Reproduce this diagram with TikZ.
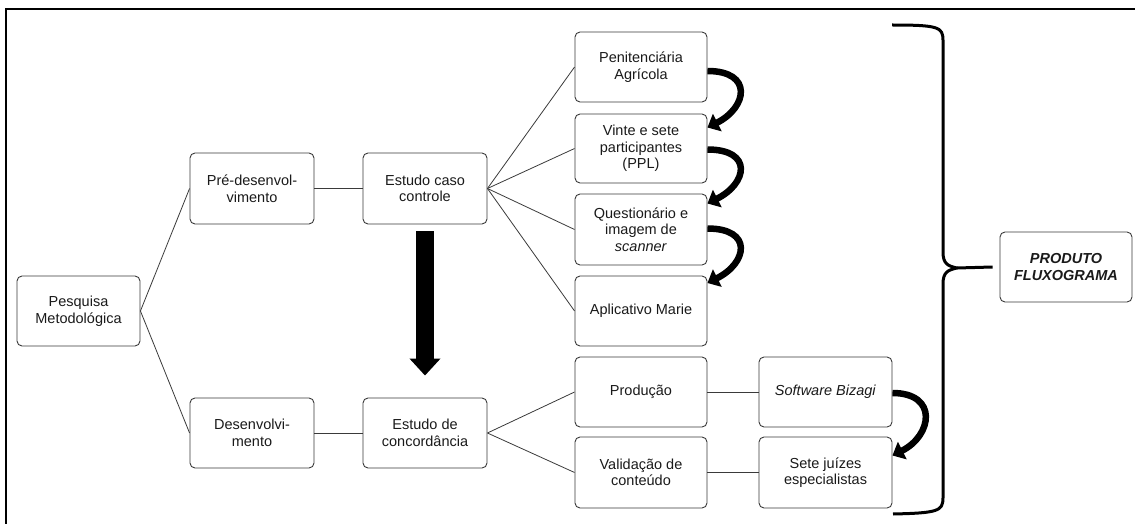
\documentclass[tikz,border=0pt]{standalone}
\usepackage{fontspec}
\setmainfont{Liberation Sans}
\usetikzlibrary{arrows.meta,calc}
\definecolor{boxline}{HTML}{3A3A3A}
\definecolor{ink}{HTML}{1A1A1A}
\begin{document}
\begin{tikzpicture}[x=1pt,y=-1pt,
  box/.style={draw=boxline, line width=0.9pt, rounded corners=5pt, fill=white,
    minimum width=124pt, minimum height=70pt, align=center, inner sep=2pt,
    text=ink, font=\fontsize{14.5}{16.5}\selectfont},
  wide/.style={minimum width=132pt},
  link/.style={draw=boxline, line width=0.8pt},
  flow/.style={line width=6.5pt, -{Triangle[length=11pt,width=19pt]}},
  frame/.style={line width=2pt, black}]
\useasboundingbox (0,0) rectangle (1135,524);

% outer frame (left and top edges)
\coordinate (fbl) at (6,524);
\coordinate (ftl) at (6,9);
\coordinate (ftr) at (1135,9);
\draw[frame] (fbl) -- (ftl) -- (ftr);

% first and second levels
\node[box, minimum width=123pt] (pm) at (78.5,311) {Pesquisa\\Metodológica};
\node[box, minimum height=71pt] (pd) at (252,188.5) {Pré-desenvol-\\vimento};
\node[box, minimum height=71pt] (ecc) at (425,188.5) {Estudo caso\\controle};
\node[box] (dv) at (252,433) {Desenvolvi-\\mento};
\node[box] (edc) at (425,433) {Estudo de\\concordância};

% case-control branch
\node[box, wide] (pa) at (641,67) {Penitenciária\\Agrícola};
\node[box, wide, minimum height=69pt] (vs) at (641,148.5) {Vinte e sete\\participantes\\(PPL)};
\node[box, wide, minimum height=71pt] (qi) at (641,229.5) {Questionário e\\imagem de\\\textit{scanner}};
\node[box, wide] (am) at (641,311) {Aplicativo Marie};

% agreement branch
\node[box, wide] (pr) at (641,392) {Produção};
\node[box, wide, minimum height=71pt] (vc) at (641,472.5) {Validação de\\conteúdo};
\node[box, minimum width=133pt] (sb) at (825.5,392) {\textit{Software Bizagi}};
\node[box, minimum width=133pt, minimum height=71pt] (sj) at (825.5,472.5) {Sete juízes\\especialistas};

% product
\node[box, wide] (pf) at (1066,267) {\textbf{\textit{PRODUTO}}\\\textbf{\textit{FLUXOGRAMA}}};

% tree links
\draw[link] (pm.east) -- (pd.west);
\draw[link] (pm.east) -- (dv.west);
\draw[link] (pd) -- (ecc);
\draw[link] (dv) -- (edc);
\foreach \n in {pa,vs,qi,am} \draw[link] (ecc.east) -- (\n.west);
\draw[link] (edc.east) -- (pr.west);
\draw[link] (edc.east) -- (vc.west);
\draw[link] (pr) -- (sb);
\draw[link] (vc) -- (sj);

% block arrow between the two studies
\draw[line width=18pt, -{Triangle[length=17pt,width=30pt]}]
  ($(ecc.south)+(0,7)$) -- ($(edc.north)+(0,-22)$);

% curved sequence arrows
\draw[flow] ($(pa.east)+(0,4)$) .. controls +(46,0) and +(40,-20) .. ($(vs.east)+(0,-21)$);
\draw[flow] ($(vs.east)+(0,1)$) .. controls +(46,0) and +(40,-20) .. ($(qi.east)+(0,-26)$);
\draw[flow] ($(qi.east)+(0,-1)$) .. controls +(46,0) and +(40,-20) .. ($(am.east)+(0,-28)$);
\draw[flow] ($(sb.east)+(0,1)$) .. controls +(46,0) and +(40,-20) .. ($(sj.east)+(0,-17)$);

% closing brace
\coordinate (bt) at (892,25);
\coordinate (bb) at (893,514);
\coordinate (tip) at (957,268);
\draw[line width=3pt, line join=round]
  (bt) .. controls (938,25) and (943,27) .. (943,40)
  -- (943,252) .. controls (943,264) and (948,266) .. (tip)
  .. controls (948,270) and (943,272) .. (943,284)
  -- (943,498) .. controls (943,511) and (938,513) .. (bb);
\draw[line width=3pt] (tip) -- ($(pf.west)+(-7,0)$);
\end{tikzpicture}
\end{document}
